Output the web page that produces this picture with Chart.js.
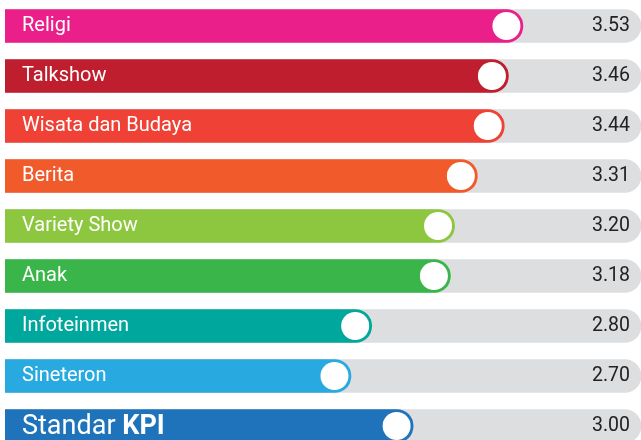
<!DOCTYPE html>
<html>
<head>
<meta charset="utf-8">
<script src="https://cdn.jsdelivr.net/npm/chart.js@4.4.1/dist/chart.umd.min.js"></script>
<style>
  html, body { margin: 0; padding: 0; background: #fff; }
  #wrap { width: 641px; height: 440px; overflow: hidden; }
  canvas { display: block; }
</style>
</head>
<body>
<div id="wrap"><canvas id="chart" width="641" height="451"></canvas></div>
<script>
// Data genre program (skor indeks)
const categories = ['Religi', 'Talkshow', 'Wisata dan Budaya', 'Berita', 'Variety Show', 'Anak', 'Infoteinmen', 'Sineteron', 'Standar KPI'];
const scores = [3.53, 3.46, 3.44, 3.31, 3.20, 3.18, 2.80, 2.70, 3.00];
const valueLabels = ['3.53', '3.46', '3.44', '3.31', '3.20', '3.18', '2.80', '2.70', '3.00'];

const barColors = ['#EA1F8A', '#BE1E2D', '#EF4136', '#F15A2B', '#8DC63F', '#3AB54A', '#00A79D', '#28AAE1', '#1F73BA'];
const scaleMin = 1.03;
const scaleMax = 4.1;
const kpiIndex = 8; // baris "Standar KPI" pakai font lebih besar

const trackValues = categories.map(() => scaleMax);

// Plugin: lingkaran putih di ujung bar + label teks
const barDecor = {
  id: 'barDecor',
  afterDatasetsDraw(chart) {
    const ctx = chart.ctx;
    const meta = chart.getDatasetMeta(0);
    ctx.save();
    meta.data.forEach((bar, i) => {
      const h = bar.height;
      // lingkaran putih
      ctx.beginPath();
      ctx.arc(bar.x - h / 2, bar.y, h / 2 - 2.5, 0, Math.PI * 2);
      ctx.fillStyle = '#ffffff';
      ctx.fill();

      // nama kategori
      ctx.fillStyle = '#ffffff';
      ctx.textBaseline = 'middle';
      ctx.textAlign = 'left';
      const x0 = chart.chartArea.left + 17;
      if (i === kpiIndex) {
        const words = categories[i].split(' ');
        const last = words.pop();
        const first = words.join(' ') + ' ';
        ctx.font = '27px Roboto';
        ctx.fillText(first, x0, bar.y + 1);
        const w = ctx.measureText(first).width;
        ctx.font = 'bold 27px Roboto';
        ctx.fillText(last, x0 + w, bar.y + 1);
      } else {
        ctx.font = '20px Roboto';
        ctx.fillText(categories[i], x0, bar.y);
      }

      // nilai di kanan
      ctx.fillStyle = '#222222';
      ctx.textAlign = 'right';
      ctx.font = '19.5px Roboto';
      ctx.fillText(valueLabels[i], 630, bar.y);
    });
    ctx.restore();
  }
};

new Chart(document.getElementById('chart'), {
  type: 'bar',
  data: {
    labels: categories,
    datasets: [
      {
        data: scores,
        backgroundColor: barColors,
        base: scaleMin,
        borderRadius: { topRight: 17, bottomRight: 17 },
        borderSkipped: 'start',
        barThickness: 33,
        grouped: false
      },
      {
        data: trackValues,
        backgroundColor: '#DDDEDF',
        base: scaleMin,
        borderRadius: { topRight: 17, bottomRight: 17 },
        borderSkipped: 'start',
        barThickness: 33,
        grouped: false
      }
    ]
  },
  options: {
    indexAxis: 'y',
    responsive: false,
    animation: false,
    layout: { padding: { left: 5, right: 0, top: 1, bottom: 0 } },
    scales: {
      x: { min: scaleMin, max: scaleMax, display: false },
      y: { display: false }
    },
    plugins: {
      legend: { display: false },
      tooltip: { enabled: false }
    }
  },
  plugins: [barDecor]
});
</script>
</body>
</html>
